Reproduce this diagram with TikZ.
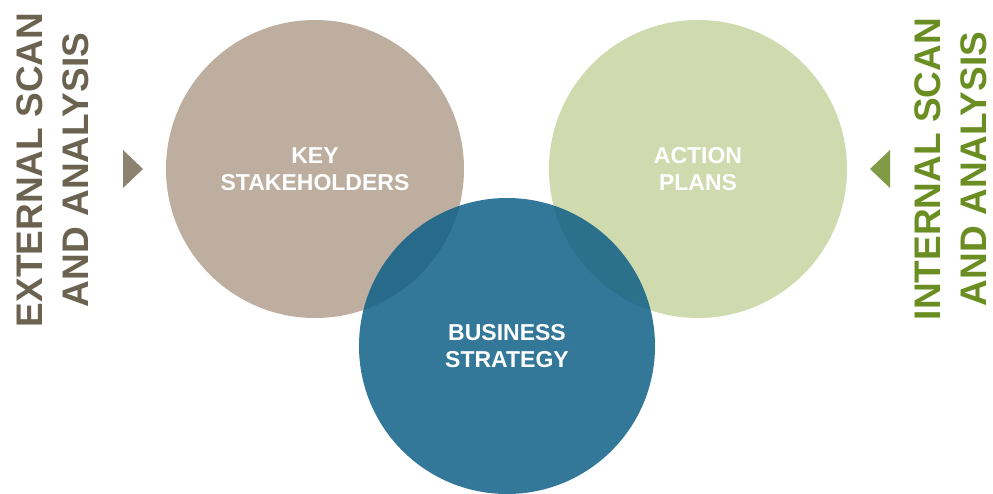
\documentclass[tikz,border=0pt]{standalone}
\usepackage{fontspec}
\setmainfont{Liberation Sans}
\definecolor{cbrown}{HTML}{BDAE9F}
\definecolor{cgreen}{HTML}{CFDAAE}
\definecolor{cblue}{HTML}{0F5F87}
\definecolor{tbrown}{HTML}{6B6350}
\definecolor{trbrown}{HTML}{8B8270}
\definecolor{tgreen}{HTML}{6B8E23}
\definecolor{trgreen}{HTML}{7F9B46}
\tikzset{
  circlabel/.style={text=white, font=\bfseries\fontsize{23}{27}\selectfont, align=center},
  sidelabel/.style={font=\bfseries\fontsize{37}{46}\selectfont, align=center, rotate=90, inner sep=0pt}
}
\begin{document}
\begin{tikzpicture}[x=1pt,y=1pt]
\useasboundingbox (0,0) rectangle (993,493);
\fill[cbrown] (315,324) circle (149);
\fill[cgreen] (698,324) circle (149);
\fill[cblue, fill opacity=0.85] (507,147) circle (148);
\node[circlabel] (ks) at (315,324) {KEY\\STAKEHOLDERS};
\node[circlabel] (ap) at (698,324) {ACTION\\PLANS};
\node[circlabel] (bs) at (507,147) {BUSINESS\\STRATEGY};
\node[sidelabel, text=tbrown] (ext) at (53,323) {EXTERNAL SCAN\\AND ANALYSIS};
\node[sidelabel, text=tgreen] (int) at (950.5,324) {INTERNAL SCAN\\AND ANALYSIS};
\fill[trbrown] (123,343) -- (123,305) -- (143,324) -- cycle;
\fill[trgreen] (890,343) -- (890,305) -- (870,324) -- cycle;
\end{tikzpicture}
\end{document}
